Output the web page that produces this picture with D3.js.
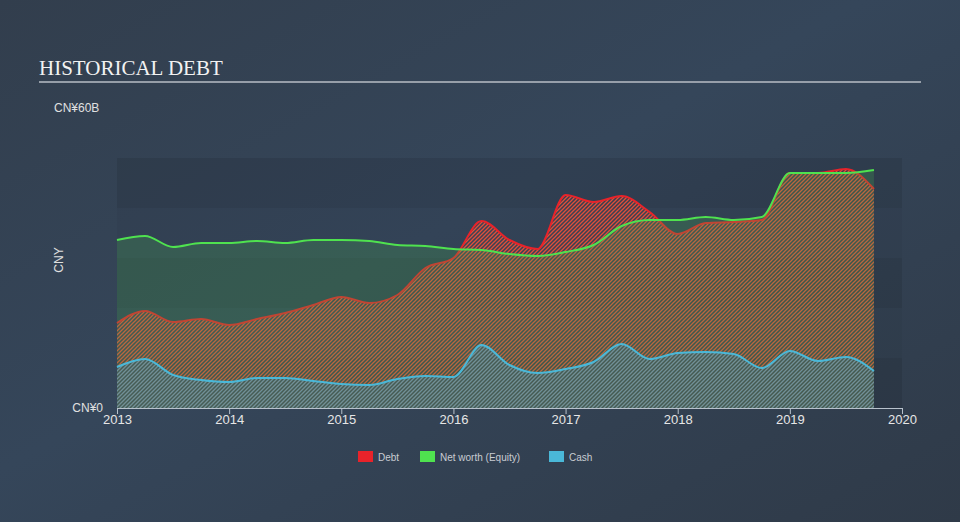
<!DOCTYPE html>
<html><head><meta charset="utf-8">
<script src="https://cdn.jsdelivr.net/npm/d3@7"></script>
<style>
html,body{margin:0;padding:0;background:#333f4e;}
svg{display:block;}
</style></head>
<body>
<svg id="chart" width="960" height="522"></svg>
<script>
const dates = [2013,2013.25,2013.5,2013.75,2014,2014.25,2014.5,2014.75,2015,2015.25,2015.5,2015.75,2016,2016.25,2016.5,2016.75,2017,2017.25,2017.5,2017.75,2018,2018.25,2018.5,2018.75,2019,2019.25,2019.5,2019.75];
const debt = [17,19.4,17.2,17.8,16.6,17.8,19,20.6,22.2,21,22.6,28,30,37.4,33.6,31.8,42.6,41.2,42.4,39.2,34.8,37,37.2,37.6,47,47,47.8,43.8];
const equity = [33.6,34.4,32.2,33,33,33.4,33,33.6,33.6,33.4,32.6,32.4,31.8,31.6,30.8,30.4,31.2,32.6,36.4,37.6,37.6,38.2,37.6,38.2,47,47,47,47.6];
const cash = [8.2,9.8,6.6,5.6,5.2,6,6,5.4,4.8,4.6,5.8,6.4,6.2,12.6,8.6,7,7.8,9.2,12.8,9.8,11,11.2,10.8,8,11.4,9.4,10.2,7.4];
const xTicks = [2013,2014,2015,2016,2017,2018,2019,2020];
const bandEdges = [0,10,20,30,40,50];
const legendItems = [{name:"Debt",color:"#e8232a"},{name:"Net worth (Equity)",color:"#4fe24f"},{name:"Cash",color:"#4ab8d8"}];

const svg = d3.select("#chart");
const defs = svg.append("defs");
const bg = defs.append("linearGradient").attr("id","bg").attr("x1","0").attr("y1","0").attr("x2","1").attr("y2","1");
bg.append("stop").attr("offset","0").attr("stop-color","#323e4d");
bg.append("stop").attr("offset","0.45").attr("stop-color","#35465a");
bg.append("stop").attr("offset","1").attr("stop-color","#2f3a48");
svg.append("rect").attr("width",960).attr("height",522).attr("fill","url(#bg)");

function hatch(id, color, base, w){
  const p = defs.append("pattern").attr("id",id).attr("patternUnits","userSpaceOnUse")
    .attr("width",4).attr("height",4);
  if(base) p.append("rect").attr("width",4).attr("height",4).attr("fill",base);
  p.append("path").attr("d","M-1,1 l2,-2 M0,4 l4,-4 M3,5 l2,-2")
    .attr("stroke",color).attr("stroke-width",w);
}
hatch("hDebt","#e0503a","rgba(232,35,42,0.06)",1.25);
hatch("hCash","rgba(80,165,195,0.7)","rgba(60,120,140,0.22)",1.1);

const x = d3.scaleLinear().domain([2013,2020]).range([117,902]);
const y = d3.scaleLinear().domain([0,60]).range([408,108]);

// bands
for(let i=0;i<bandEdges.length-1;i++){
  svg.append("rect").attr("x",x(2013)).attr("width",x(2020)-x(2013))
    .attr("y",y(bandEdges[i+1])).attr("height",y(bandEdges[i])-y(bandEdges[i+1]))
    .attr("fill", i%2===0 ? "rgba(0,0,0,0.09)" : "rgba(0,0,0,0.03)");
}

const curve = d3.curveMonotoneX;
const mk = arr => dates.map((d,i)=>({d,v:arr[i]}));
const area = d3.area().x(p=>x(p.d)).y0(y(0)).y1(p=>y(p.v)).curve(curve);
const line = d3.line().x(p=>x(p.d)).y(p=>y(p.v)).curve(curve);

// debt
svg.append("path").attr("d",area(mk(debt))).attr("fill","url(#hDebt)");
svg.append("path").attr("d",line(mk(debt))).attr("fill","none").attr("stroke","#e8232a").attr("stroke-width",2);
// equity overlay
svg.append("path").attr("d",area(mk(equity))).attr("fill","rgba(72,170,80,0.25)");
svg.append("path").attr("d",line(mk(equity))).attr("fill","none").attr("stroke","#4fe24f").attr("stroke-width",2);
// cash
svg.append("path").attr("d",area(mk(cash))).attr("fill","url(#hCash)");
svg.append("path").attr("d",line(mk(cash))).attr("fill","none").attr("stroke","#4ab8d8").attr("stroke-width",2);

// x axis
const ax = svg.append("g").attr("transform",`translate(0,${y(0)})`)
  .call(d3.axisBottom(x).tickValues(xTicks).tickFormat(d3.format("d")).tickSize(6).tickSizeOuter(0));
ax.select(".domain").attr("stroke","#b8c2cc");
ax.selectAll(".tick line").attr("stroke","#b8c2cc");
ax.selectAll(".tick text").attr("fill","#e6e6e6").attr("font-family","Liberation Sans, Arial, sans-serif").attr("font-size",13).attr("dy","0.55em");

// y labels
const lf = "Liberation Sans, Arial, sans-serif";
svg.append("text").attr("x",54).attr("y",y(60)).attr("dy","0.35em").text("CN¥60B")
  .attr("fill","#e0e0e0").attr("font-family",lf).attr("font-size",12);
svg.append("text").attr("x",103).attr("y",y(0)).attr("dy","0.35em").attr("text-anchor","end").text("CN¥0")
  .attr("fill","#e0e0e0").attr("font-family",lf).attr("font-size",12);
svg.append("text").attr("transform","translate(63,260) rotate(-90)").attr("text-anchor","middle").text("CNY")
  .attr("fill","#e0e0e0").attr("font-family",lf).attr("font-size",12);

// title
svg.append("text").attr("x",39).attr("y",75).text("HISTORICAL DEBT")
  .attr("fill","#f2f2f2").attr("font-family","Liberation Serif, Times New Roman, serif").attr("font-size",21);
svg.append("line").attr("x1",39).attr("x2",921).attr("y1",82).attr("y2",82).attr("stroke","#b8bec6").attr("stroke-width",1.5);

// legend
const lx = [358,420,549];
const lg = svg.append("g");
legendItems.forEach((it,i)=>{
  lg.append("rect").attr("x",lx[i]).attr("y",451).attr("width",15).attr("height",11).attr("fill",it.color);
  lg.append("text").attr("x",lx[i]+20).attr("y",457).attr("dy","0.35em").text(it.name)
    .attr("fill","#c8ccd2").attr("font-family",lf).attr("font-size",10);
});
</script>
</body></html>
